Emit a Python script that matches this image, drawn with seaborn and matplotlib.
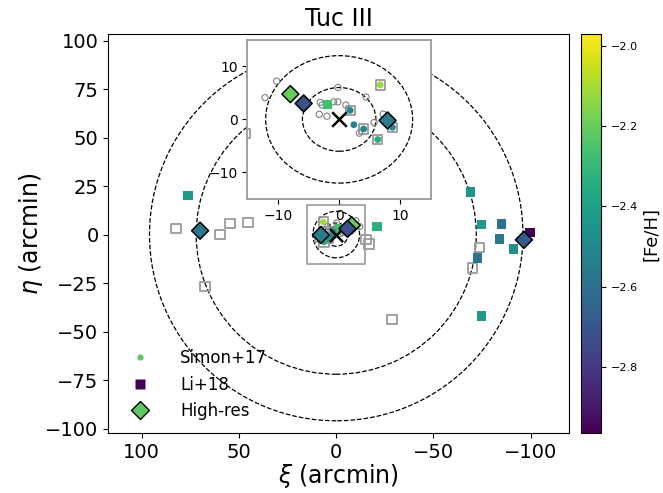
import numpy as np
import pandas as pd
import matplotlib
matplotlib.use("Agg")
import matplotlib.pyplot as plt
import seaborn as sns
from matplotlib.colors import Normalize
from matplotlib.cm import ScalarMappable
from matplotlib.lines import Line2D
from matplotlib.patches import Circle, Rectangle

# ---------------- data ----------------
# Simon+17 members with [Fe/H]
simon_xi = [6.7, 1.8, 2.4, 4.0, 6.3, 8.7]
simon_eta = [6.5, 1.7, -1.0, -1.8, -3.8, -1.5]
simon_feh = [-2.12, -2.50, -2.52, -2.50, -2.35, -2.50]
# Simon+17 stars without [Fe/H]
simon_nm_xi = [-10.2, -12.1, -0.2, 4.4, -3.1, -2.8, -0.9, -0.2, 1.1, -3.25, -2.0, 7.2, 5.7, 3.3]
simon_nm_eta = [7.2, 4.1, 6.0, 4.2, 3.2, 2.7, 3.3, 3.3, 2.7, 0.95, 0.6, 1.0, -0.6, -2.6]

# Li+18 members with [Fe/H]
li_xi = [76.2, -21.0, -69.2, -74.8, -85.1, -99.6, -83.9, -91.1, -72.5, -74.8, -1.9]
li_eta = [20.1, 4.0, 21.9, 5.1, 5.4, 1.1, -2.3, -7.5, -12.1, -41.9, 2.8]
li_feh = [-2.42, -2.33, -2.45, -2.43, -2.60, -2.96, -2.57, -2.47, -2.58, -2.44, -2.27]
# Li+18 stars without [Fe/H]
li_nm_xi = [82.4, 59.7, 54.6, 45.4, 67.5, -28.7, -15.3, -16.9, -73.6, -70.2,
            6.7, 1.8, 4.0, 6.3, 8.7]
li_nm_eta = [3.0, 0.0, 5.6, 6.1, -26.8, -43.8, -2.7, -4.8, -6.6, -17.3,
             6.5, 1.7, -1.8, -3.8, -1.5]

# High-resolution targets
hr_xi = [70.0, -96.5, -7.97, -5.8, 7.9]
hr_eta = [2.0, -2.7, 4.76, 3.0, -0.2]
hr_feh = [-2.58, -2.68, -2.20, -2.72, -2.55]

# reference radii (arcmin)
radii_main = [6, 12, 72, 96]
radii_inset = [6, 12]
feh_min, feh_max = -2.965, -1.97
inset_lim = 15

simon = pd.DataFrame({"xi": simon_xi, "eta": simon_eta, "feh": simon_feh})
simon_nm = pd.DataFrame({"xi": simon_nm_xi, "eta": simon_nm_eta})
li = pd.DataFrame({"xi": li_xi, "eta": li_eta, "feh": li_feh})
li_nm = pd.DataFrame({"xi": li_nm_xi, "eta": li_nm_eta})
hr = pd.DataFrame({"xi": hr_xi, "eta": hr_eta, "feh": hr_feh})

cmap = "viridis"
norm = Normalize(vmin=feh_min, vmax=feh_max)
GRAY = "#9a9a9a"

fig = plt.figure(figsize=(6.63, 4.93), dpi=100)
ax = fig.add_axes([0.1633, 0.1217, 0.6953, 0.8093])
cax = fig.add_axes([0.8759, 0.1217, 0.0302, 0.8093])
axin = fig.add_axes([0.373, 0.5963, 0.2771, 0.3231])


def draw(a, r_list, sq_s, circ_s, nm_circ_s, dia_s, x_s):
    for r in r_list:
        a.add_patch(Circle((0, 0), r, fill=False, ls="--", lw=0.9, color="k", zorder=1))
    sns.scatterplot(data=li_nm, x="xi", y="eta", marker="s", s=sq_s, facecolor="none",
                    edgecolor=GRAY, linewidth=1.3, ax=a, legend=False, zorder=2)
    sns.scatterplot(data=simon_nm, x="xi", y="eta", marker="o", s=nm_circ_s, facecolor="none",
                    edgecolor="gray", linewidth=0.8, ax=a, legend=False, zorder=2)
    sns.scatterplot(data=li, x="xi", y="eta", hue="feh", palette=cmap, hue_norm=norm,
                    marker="s", s=sq_s, linewidth=0, ax=a, legend=False, zorder=3)
    sns.scatterplot(data=simon, x="xi", y="eta", hue="feh", palette=cmap, hue_norm=norm,
                    marker="o", s=circ_s, linewidth=0, ax=a, legend=False, zorder=3)
    a.scatter([0], [0], marker="x", s=x_s, color="k", linewidth=1.8, zorder=4)
    sns.scatterplot(data=hr, x="xi", y="eta", hue="feh", palette=cmap, hue_norm=norm,
                    marker="D", s=dia_s, edgecolor="k", linewidth=1.1, ax=a, legend=False,
                    zorder=5)


draw(ax, radii_main, 45, 22, 18, 75, 90)
ax.set_xlim(117.2, -119.8)
ax.set_ylim(-102.3, 103.4)
ax.set_xticks([100, 50, 0, -50, -100])
ax.set_yticks([100, 75, 50, 25, 0, -25, -50, -75, -100])
ax.tick_params(labelsize=14)
ax.set_xlabel(r"$\xi$ (arcmin)", fontsize=17, labelpad=0)
ax.set_ylabel(r"$\eta$ (arcmin)", fontsize=17, labelpad=0)
ax.set_title("Tuc III", fontsize=17)
ax.add_patch(Rectangle((-inset_lim, -inset_lim), 2 * inset_lim, 2 * inset_lim, fill=False,
                       edgecolor=GRAY, lw=1.2, zorder=6))

draw(axin, radii_inset, 45, 24, 20, 75, 110)
axin.set_xlim(-inset_lim, inset_lim)
axin.set_ylim(-inset_lim, inset_lim)
axin.set_xticks([-10, 0, 10])
axin.set_yticks([-10, 0, 10])
axin.tick_params(labelsize=10)
axin.set_xlabel("")
axin.set_ylabel("")
for sp in axin.spines.values():
    sp.set_edgecolor(GRAY)
    sp.set_linewidth(1.3)

sm = ScalarMappable(norm=norm, cmap=cmap)
cb = fig.colorbar(sm, cax=cax)
cb.set_ticks([-2.0, -2.2, -2.4, -2.6, -2.8])
cb.ax.tick_params(labelsize=8)
cb.set_label("[Fe/H]", fontsize=13, labelpad=3)

vir = plt.get_cmap(cmap)
handles = [
    Line2D([], [], ls="none", marker="o", ms=4.5, color=vir(0.75), mec="none", label="Simon+17"),
    Line2D([], [], ls="none", marker="s", ms=7, color=vir(0.0), mec="none", label="Li+18"),
    Line2D([], [], ls="none", marker="D", ms=9, color=vir(0.75), mec="k", label="High-res"),
]
ax.legend(handles=handles, loc="lower left", frameon=False, fontsize=12,
          bbox_to_anchor=(0.0, -0.005), handletextpad=1.4)

fig.savefig("out.png", dpi=100)
